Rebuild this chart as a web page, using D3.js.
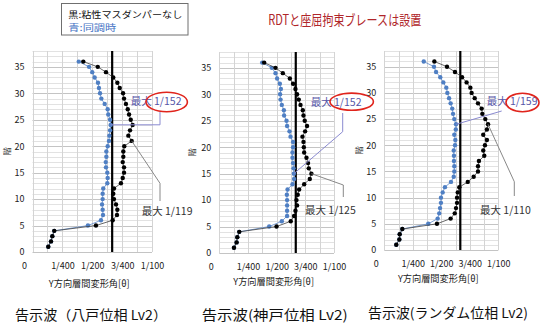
<!DOCTYPE html>
<html><head><meta charset="utf-8">
<script src="https://cdn.jsdelivr.net/npm/d3@7"></script>
<style>
html,body{margin:0;padding:0;background:#fff;}
svg{display:block;font-family:"Noto Sans CJK JP","Noto Sans",sans-serif;}
</style></head>
<body>
<svg id="c" width="550" height="327"></svg>
<script>
// ---------- data ----------
const floors = [1,2,3,4,5,6,7,8,9,10,11,12,13,14,15,16,17,18,19,20,21,22,23,24,25,26,27,28,29,30,31,32,33,34,35,36];
const xTickValues = [0, 0.0025, 0.005, 0.0075, 0.01];
const xTickLabels = ["0", "1/400", "1/200", "3/400", "1/100"];
const yTickValues = [0, 5, 10, 15, 20, 25, 30, 35];
const limitDrift = 1 / 150;

// 八戸位相
const hachinoheBlack = [0.00132,0.00155,0.00166,0.00182,0.00531,0.00671,0.00707,0.00710,0.00699,0.00682,0.00676,0.00682,0.00740,0.00755,0.00766,0.00766,0.00755,0.00760,0.00760,0.00768,0.00830,0.00802,0.00816,0.00838,0.00822,0.00808,0.00797,0.00782,0.00766,0.00758,0.00730,0.00710,0.00676,0.00615,0.00546,0.00425];
const hachinoheBlue  = [0.00132,0.00155,0.00166,0.00182,0.00464,0.00573,0.00590,0.00587,0.00582,0.00587,0.00587,0.00592,0.00626,0.00629,0.00626,0.00615,0.00613,0.00618,0.00618,0.00629,0.00640,0.00643,0.00649,0.00654,0.00649,0.00634,0.00629,0.00604,0.00576,0.00565,0.00556,0.00548,0.00520,0.00500,0.00473,0.00387];
// 神戸位相
const kobeBlack = [0.00128,0.00151,0.00157,0.00174,0.00499,0.00623,0.00652,0.00664,0.00678,0.00673,0.00684,0.00696,0.00740,0.00789,0.00803,0.00780,0.00774,0.00760,0.00740,0.00737,0.00734,0.00725,0.00748,0.00765,0.00745,0.00734,0.00728,0.00708,0.00693,0.00678,0.00664,0.00643,0.00615,0.00554,0.00490,0.00391];
const kobeBlue  = [0.00128,0.00151,0.00157,0.00174,0.00435,0.00545,0.00591,0.00591,0.00591,0.00591,0.00589,0.00595,0.00638,0.00652,0.00650,0.00647,0.00643,0.00638,0.00638,0.00643,0.00643,0.00621,0.00612,0.00591,0.00586,0.00565,0.00563,0.00545,0.00534,0.00530,0.00537,0.00528,0.00504,0.00490,0.00458,0.00374];
// ランダム位相
const randomBlack = [0.00105,0.00132,0.00135,0.00158,0.00462,0.00582,0.00618,0.00629,0.00638,0.00638,0.00644,0.00658,0.00732,0.00784,0.00822,0.00822,0.00830,0.00877,0.00868,0.00883,0.00900,0.00868,0.00900,0.00910,0.00886,0.00860,0.00854,0.00822,0.00793,0.00766,0.00755,0.00722,0.00682,0.00620,0.00550,0.00439];
const randomBlue  = [0.00105,0.00132,0.00135,0.00158,0.00386,0.00468,0.00482,0.00489,0.00497,0.00497,0.00512,0.00532,0.00585,0.00609,0.00614,0.00614,0.00611,0.00611,0.00609,0.00620,0.00623,0.00614,0.00627,0.00629,0.00614,0.00603,0.00596,0.00582,0.00568,0.00553,0.00544,0.00518,0.00491,0.00454,0.00436,0.00346];

const panelTitles = ["告示波（八戸位相 Lv2）", "告示波(神戸位相 Lv2)", "告示波(ランダム位相 Lv2)"];
const blueMaxLabels = ["1/152", "1/152", "1/159"];
const blackMaxLabels = ["最大 1/119", "最大 1/125", "最大 1/110"];
const blueMaxFloors = [24, 15, 24];
const blackMaxFloors = [21, 15, 24];
const xAxisTitle = "Y方向層間変形角[θ]";
const yAxisTitle = "階";
const legendLines = ["黒:粘性マスダンパーなし", "青:同調時"];
const mainTitle = "RDTと座屈拘束ブレースは設置";

// ---------- layout ----------
const panels = [
  {black: hachinoheBlack, blue: hachinoheBlue, left: 32.5, width: 119.5, top: 51, bottom: 252,
   tickY: 265.5, xtY: 286.5, subX: 15, subW: 152, subY: 320, yTitleX: 10,
   blueLbl: [130.7, 105], ell: [166.7, 102, 20.7, 9.7], bluePath: [[160, 111.5], [160, 124.8]],
   blackLbl: [141.7, 214.5], blackPath: [[160, 201], [160, 183.3]]},
  {black: kobeBlack, blue: kobeBlue, left: 219.3, width: 114.7, top: 52, bottom: 253,
   tickY: 267, xtY: 285, subX: 201.7, subW: 146, subY: 320, yTitleX: 195,
   blueLbl: [310.7, 105.5], ell: [351.7, 101.7, 21.7, 8.6], bluePath: [[342.7, 113], [342.7, 131.7]],
   blackLbl: [305, 214], blackPath: [[343.3, 197], [343.3, 185]]},
  {black: randomBlack, blue: randomBlue, left: 384.3, width: 114, top: 51, bottom: 250,
   tickY: 263.5, xtY: 281.5, subX: 368, subW: 160, subY: 318, yTitleX: 362,
   blueLbl: [486.7, 105], ell: [522.5, 102.5, 16.5, 9.2], bluePath: [[501.7, 111]],
   blackLbl: [480, 214], blackPath: [[514.3, 196], [514.3, 181.7]]}
];

const svg = d3.select("#c");

// main title + legend
svg.append("text").attr("x", 268.3).attr("y", 25).attr("font-size", 14)
  .attr("fill", "#b0262a").attr("textLength", 153).attr("lengthAdjust", "spacingAndGlyphs")
  .text(mainTitle);
svg.append("rect").attr("x", 61.5).attr("y", 3.5).attr("width", 126.5).attr("height", 31.5)
  .attr("fill", "#fff").attr("stroke", "#6f6f6f").attr("stroke-width", 1);
svg.append("text").attr("x", 68.3).attr("y", 17.6).attr("font-size", 9).attr("fill", "#111")
  .attr("textLength", 114).attr("lengthAdjust", "spacingAndGlyphs").text(legendLines[0]);
svg.append("text").attr("x", 68.3).attr("y", 30.8).attr("font-size", 9).attr("fill", "#4472c4")
  .attr("textLength", 48).attr("lengthAdjust", "spacingAndGlyphs").text(legendLines[1]);

panels.forEach((p, i) => {
  const x = d3.scaleLinear().domain([0, 0.01]).range([p.left, p.left + p.width]);
  const y = d3.scaleLinear().domain([0, 38]).range([p.bottom, p.top]);
  const g = svg.append("g");

  // grid
  const hLines = d3.range(0, 39, 1);
  g.selectAll(".hg").data(hLines).join("line")
    .attr("x1", x(0)).attr("x2", x(0.01))
    .attr("y1", d => Math.round(y(d)) + 0.5).attr("y2", d => Math.round(y(d)) + 0.5)
    .attr("stroke", d => d % 5 === 0 ? "#c4c4c4" : "#e2e2e2").attr("stroke-width", 1);
  const vLines = d3.range(0, 9, 1).map(k => k * 0.00125);
  g.selectAll(".vg").data(vLines).join("line")
    .attr("x1", d => Math.round(x(d)) + 0.5).attr("x2", d => Math.round(x(d)) + 0.5)
    .attr("y1", y(38)).attr("y2", y(0))
    .attr("stroke", "#d4d4d4").attr("stroke-width", 1);

  // axes labels
  const xa = g.append("g").attr("transform", `translate(0,${p.tickY})`)
    .call(d3.axisBottom(x).tickValues(xTickValues).tickSize(0).tickPadding(0)
      .tickFormat((d, k) => xTickLabels[k]));
  xa.select(".domain").remove();
  xa.selectAll("text").attr("font-size", 9).attr("fill", "#222").attr("y", 0)
    .attr("font-family", '"Noto Sans CJK JP",sans-serif').attr("dy", "0.35em");
  xa.selectAll(".tick").filter((d, k) => k === 0).select("text").attr("x", -8.5);

  const ya = g.append("g").attr("transform", `translate(${p.left - 8},0)`)
    .call(d3.axisLeft(y).tickValues(yTickValues).tickSize(0).tickPadding(0));
  ya.select(".domain").remove();
  ya.selectAll("text").attr("font-size", 9).attr("fill", "#222")
    .attr("font-family", '"Noto Sans CJK JP",sans-serif');

  // axis titles
  g.append("text").attr("x", p.left + p.width / 2 - 3).attr("y", p.xtY)
    .attr("text-anchor", "middle").attr("font-size", 9.2).attr("fill", "#222").text(xAxisTitle);
  g.append("text").attr("transform", `translate(${p.yTitleX},${(p.top + p.bottom) / 2}) rotate(-90)`)
    .attr("text-anchor", "middle").attr("font-size", 8.5).attr("fill", "#444").text(yAxisTitle);

  // threshold line
  g.append("line").attr("x1", x(limitDrift)).attr("x2", x(limitDrift))
    .attr("y1", y(38)).attr("y2", y(0)).attr("stroke", "#000").attr("stroke-width", 2.2);

  const line = d3.line().x(d => x(d[1])).y(d => y(d[0]));
  const blueData = floors.map((f, k) => [f, p.blue[k]]);
  const blackData = floors.map((f, k) => [f, p.black[k]]);

  g.append("path").attr("d", line(blueData)).attr("fill", "none")
    .attr("stroke", "#5b87c8").attr("stroke-width", 0.8);
  g.selectAll(".bm").data(blueData).join("circle")
    .attr("cx", d => x(d[1])).attr("cy", d => y(d[0])).attr("r", 2.2).attr("fill", "#4f7fc3");

  g.append("path").attr("d", line(blackData)).attr("fill", "none")
    .attr("stroke", "#404040").attr("stroke-width", 0.8);
  g.selectAll(".km").data(blackData).join("circle")
    .attr("cx", d => x(d[1])).attr("cy", d => y(d[0])).attr("r", 2.2).attr("fill", "#000");

  // callouts
  const bf = blueMaxFloors[i], kf = blackMaxFloors[i];
  const bPts = p.bluePath.concat([[x(p.blue[bf - 1]), y(bf)]]);
  if (i === 0) bPts[bPts.length - 1][1] = bPts[bPts.length - 2][1];
  g.append("path").attr("d", d3.line()(bPts)).attr("fill", "none")
    .attr("stroke", "#8a8ad0").attr("stroke-width", 1);
  const kPts = p.blackPath.concat([[x(p.black[kf - 1]), y(kf)]]);
  g.append("path").attr("d", d3.line()(kPts)).attr("fill", "none")
    .attr("stroke", "#7a7a7a").attr("stroke-width", 0.9);

  const bl = g.append("text").attr("x", p.blueLbl[0]).attr("y", p.blueLbl[1])
    .attr("font-size", 10.5).attr("fill", "#5656a8");
  bl.append("tspan").text("最大 ");
  bl.append("tspan").text(blueMaxLabels[i]);
  g.append("ellipse").attr("cx", p.ell[0]).attr("cy", p.ell[1]).attr("rx", p.ell[2]).attr("ry", p.ell[3])
    .attr("fill", "none").attr("stroke", "#e0241c").attr("stroke-width", 1.6);

  g.append("text").attr("x", p.blackLbl[0]).attr("y", p.blackLbl[1])
    .attr("font-size", 10.5).attr("fill", "#333").text(blackMaxLabels[i]);

  // subtitle
  g.append("text").attr("x", p.subX).attr("y", p.subY).attr("font-size", 13.5).attr("fill", "#111")
    .attr("textLength", p.subW).attr("lengthAdjust", "spacingAndGlyphs").text(panelTitles[i]);
});
</script>
</body></html>
